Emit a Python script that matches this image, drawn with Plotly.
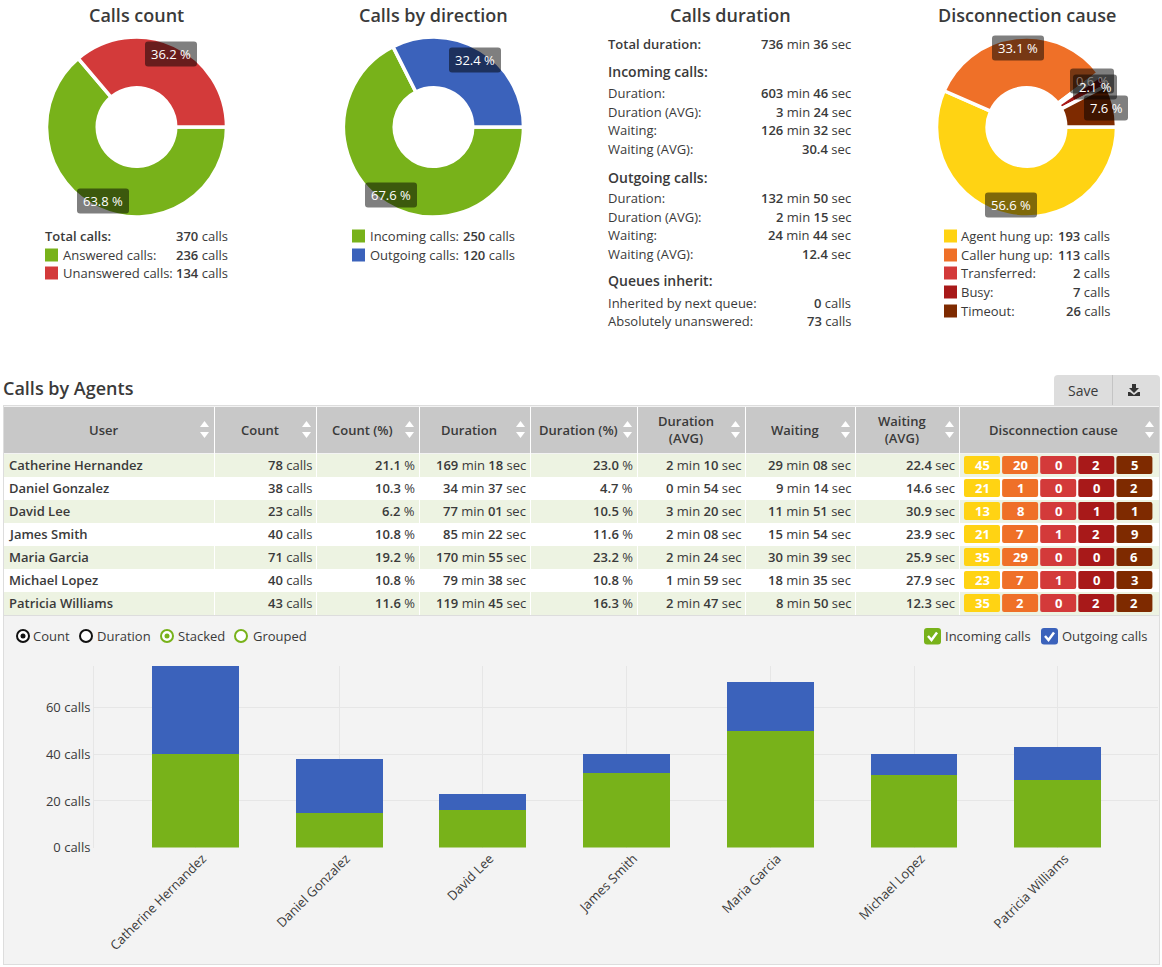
import plotly.graph_objects as go

W = 1162
H = 967
FONT = "Open Sans"
TEXT = "#3a3a3a"

GREEN = "#78b21a"
RED = "#d33a3a"
BLUE = "#3b62bb"
YELLOW = "#ffd313"
ORANGE = "#ef7028"
DARKRED = "#a81919"
BROWN = "#7e2a00"
CAUSE_COLORS = [YELLOW, ORANGE, RED, DARKRED, BROWN]

# pies
count_labels = ["Answered calls:", "Unanswered calls:"]
count_values = [236, 134]
direction_labels = ["Incoming calls:", "Outgoing calls:"]
direction_values = [250, 120]
cause_labels = ["Agent hung up:", "Caller hung up:", "Transferred:", "Busy:", "Timeout:"]
cause_values = [193, 113, 2, 7, 26]

# duration block
duration_rows = [
	("Total duration:", "736", " min ", "36", " sec", 44, "total"),
	("Incoming calls:", None, None, None, None, 72, "head"),
	("Duration:", "603", " min ", "46", " sec", 93, ""),
	("Duration (AVG):", "3", " min ", "24", " sec", 112, ""),
	("Waiting:", "126", " min ", "32", " sec", 130, ""),
	("Waiting (AVG):", "", "", "30.4", " sec", 149, ""),
	("Outgoing calls:", None, None, None, None, 177, "head"),
	("Duration:", "132", " min ", "50", " sec", 198, ""),
	("Duration (AVG):", "2", " min ", "15", " sec", 217, ""),
	("Waiting:", "24", " min ", "44", " sec", 235, ""),
	("Waiting (AVG):", "", "", "12.4", " sec", 254, ""),
	("Queues inherit:", None, None, None, None, 281, "head"),
	("Inherited by next queue:", "", "", "0", " calls", 303, ""),
	("Absolutely unanswered:", "", "", "73", " calls", 321, ""),
]

# table
headers = ["User", "Count", "Count (%)", "Duration", "Duration (%)", "Duration<br>(AVG)", "Waiting", "Waiting<br>(AVG)", "Disconnection cause"]
col_edges = [4, 214, 316, 419, 530, 637, 745, 855, 959, 1159]
agents = ["Catherine Hernandez", "Daniel Gonzalez", "David Lee", "James Smith", "Maria Garcia", "Michael Lopez", "Patricia Williams"]
counts = [78, 38, 23, 40, 71, 40, 43]
count_pct = ["21.1", "10.3", "6.2", "10.8", "19.2", "10.8", "11.6"]
durations = [("169", "18"), ("34", "37"), ("77", "01"), ("85", "22"), ("170", "55"), ("79", "38"), ("119", "45")]
duration_pct = ["23.0", "4.7", "10.5", "11.6", "23.2", "10.8", "16.3"]
duration_avg = [("2", "10"), ("0", "54"), ("3", "20"), ("2", "08"), ("2", "24"), ("1", "59"), ("2", "47")]
waiting = [("29", "08"), ("9", "14"), ("11", "51"), ("15", "54"), ("30", "39"), ("18", "35"), ("8", "50")]
waiting_avg = ["22.4", "14.6", "30.9", "23.9", "25.9", "27.9", "12.3"]
causes = [
	[45, 20, 0, 2, 5],
	[21, 1, 0, 0, 2],
	[13, 8, 0, 1, 1],
	[21, 7, 1, 2, 9],
	[35, 29, 0, 0, 6],
	[23, 7, 1, 0, 3],
	[35, 2, 0, 2, 2],
]

# bars
incoming = [40, 15, 16, 32, 50, 31, 29]
outgoing = [38, 23, 7, 8, 21, 9, 14]
y_ticks = [0, 20, 40, 60]
y_tick_labels = ["0 calls", "20 calls", "40 calls", "60 calls"]

shapes = []
annotations = []

def X(x):
	return x / W

def Y(y):
	return 1 - y / H

def bold(s):
	return '<span style="font-weight:600">' + s + '</span>'

def text(x, y, s, anchor="left", size=13, color=TEXT, weight=None):
	font = dict(family=FONT, size=size, color=color)
	if weight:
		font["weight"] = weight
	annotations.append(dict(x=X(x), y=Y(y), xref="paper", yref="paper", text=s, showarrow=False,
		xanchor=anchor, yanchor="middle", align="center", font=font, borderpad=0, borderwidth=0))

def rect(x0, y0, x1, y1, color, layer="below"):
	shapes.append(dict(type="rect", xref="paper", yref="paper", x0=X(x0), x1=X(x1), y0=Y(y0), y1=Y(y1),
		fillcolor=color, line_width=0, layer=layer))

def path(points, color, line=None, width=0, layer="above"):
	shapes.append(dict(type="path", xref="paper", yref="paper", path=points, fillcolor=color,
		line=dict(color=line or color, width=width), layer=layer))

def rounded(x0, y0, x1, y1, r, color, layer="above", top_only=False):
	rb = 0 if top_only else r
	p = (f"M {X(x0 + r)} {Y(y0)} L {X(x1 - r)} {Y(y0)} Q {X(x1)} {Y(y0)} {X(x1)} {Y(y0 + r)} "
		f"L {X(x1)} {Y(y1 - rb)} Q {X(x1)} {Y(y1)} {X(x1 - rb)} {Y(y1)} L {X(x0 + rb)} {Y(y1)} "
		f"Q {X(x0)} {Y(y1)} {X(x0)} {Y(y1 - rb)} L {X(x0)} {Y(y0 + r)} Q {X(x0)} {Y(y0)} {X(x0 + r)} {Y(y0)} Z")
	shapes.append(dict(type="path", xref="paper", yref="paper", path=p, fillcolor=color, line_width=0, layer=layer))

def circle(cx, cy, r, fill, line, width):
	shapes.append(dict(type="circle", xref="paper", yref="paper", x0=X(cx - r), x1=X(cx + r), y0=Y(cy - r), y1=Y(cy + r),
		fillcolor=fill, line=dict(color=line, width=width)))

def pie(values, colors, cx, cy=127, r=90):
	return go.Pie(values=values, marker=dict(colors=colors, line=dict(color="white", width=3.5)), hole=0.436, sort=False,
		direction="clockwise", rotation=90, textinfo="none", hoverinfo="none", showlegend=False,
		domain=dict(x=[X(cx - r), X(cx + r)], y=[Y(cy + r), Y(cy - r)]))

def pct_labels(values, places, dimmed=()):
	total = sum(values)
	for i, (v, (x, y)) in enumerate(zip(values, places)):
		pct = v / total * 100
		half = 26 if pct >= 10 else 22
		rounded(x - half, y - 12.5, x + half, y + 12.5, 3, "rgba(0,0,0,0.5)")
		text(x, y, f"{pct:.1f} %", "center", color="rgba(255,255,255,0.4)" if i in dimmed else "white")

def legend_row(x_swatch, x_text, x_right, y, label, value, color):
	rect(x_swatch, y - 6.5, x_swatch + 13, y + 6.5, color)
	text(x_text, y, label)
	text(x_right, y, bold(str(value)) + " calls", "right")

def min_sec(pair):
	return bold(pair[0]) + " min " + bold(pair[1]) + " sec"

# titles
for s, cx in [("Calls count", 136.5), ("Calls by direction", 433.5), ("Calls duration", 730), ("Disconnection cause", 1026.5)]:
	text(cx, 15, s, "center", size=18, weight=600)

# left pie
pct_labels(count_values, [(103, 201), (171, 54)])
text(45, 236, bold("Total calls:"))
text(228, 236, bold("370") + " calls", "right")
legend_row(45, 63, 228, 255, count_labels[0], count_values[0], GREEN)
legend_row(45, 63, 228, 273, count_labels[1], count_values[1], RED)

# direction pie
pct_labels(direction_values, [(391, 195), (475, 60)])
legend_row(352, 370, 515, 236, direction_labels[0], direction_values[0], GREEN)
legend_row(352, 370, 515, 255, direction_labels[1], direction_values[1], BLUE)

# cause pie
pct_labels(cause_values, [(1011, 205), (1018, 48), (1092, 81), (1095, 87), (1106, 108)], dimmed=[2])
for label, value, color, y in zip(cause_labels, cause_values, CAUSE_COLORS, [236, 255, 273, 292, 311]):
	legend_row(944, 961, 1110, y, label, value, color)

# duration block
for label, a, u1, b, u2, y, kind in duration_rows:
	if kind == "head":
		text(608.5, y, label, size=14, weight=600)
		continue
	text(608.5, y, bold(label) if kind == "total" else label)
	left = bold(a) + u1 if a else ""
	text(851, y, left + bold(b) + u2, "right")

# table + chart panel
text(3, 388, "Calls by Agents", size=18, weight=600)
rounded(1054, 375, 1160, 405, 4, "#dddddd", layer="below", top_only=True)
rect(1112, 375, 1113, 405, "#c4c4c4")
text(1083, 390, "Save", "center", size=14)
path(f"M {X(1132)} {Y(384)} L {X(1136)} {Y(384)} L {X(1136)} {Y(388)} L {X(1139)} {Y(388)} L {X(1134)} {Y(393)} L {X(1129)} {Y(388)} L {X(1132)} {Y(388)} Z", "#333333")
path(f"M {X(1128)} {Y(392)} L {X(1130)} {Y(392)} L {X(1134)} {Y(395)} L {X(1138)} {Y(392)} L {X(1140)} {Y(392)} L {X(1140)} {Y(396)} L {X(1128)} {Y(396)} Z", "#333333")

rect(3, 405, 1160, 965, "#dddddd")
rect(4, 406, 1159, 964, "#f3f3f3")
rect(4, 407, 1159, 453, "#c8c8c8")
row_top = 454
row_h = 23
for i in range(len(agents)):
	rect(4, row_top + i * row_h, 1159, row_top + (i + 1) * row_h, "#edf3e2" if i % 2 == 0 else "white")
rect(4, row_top + 7 * row_h, 1159, row_top + 7 * row_h + 1, "#dddddd")
for edge in col_edges[1:-1]:
	rect(edge, 407, edge + 1, row_top + 7 * row_h, "white")

for j, h in enumerate(headers):
	left = col_edges[j]
	right = col_edges[j + 1]
	cx = (left + right) / 2 - 5.5
	text(cx, 430, bold(h), "center")
	ax = right - 9.5
	path(f"M {X(ax - 4.5)} {Y(427)} L {X(ax + 4.5)} {Y(427)} L {X(ax)} {Y(421)} Z", "white")
	path(f"M {X(ax - 4.5)} {Y(432)} L {X(ax + 4.5)} {Y(432)} L {X(ax)} {Y(438)} Z", "white")

for i, name in enumerate(agents):
	y = row_top + i * row_h + row_h / 2 - 0.5
	text(9, y, bold(name))
	cells = [
		bold(str(counts[i])) + " calls",
		bold(count_pct[i]) + " %",
		min_sec(durations[i]),
		bold(duration_pct[i]) + " %",
		min_sec(duration_avg[i]),
		min_sec(waiting[i]),
		bold(waiting_avg[i]) + " sec",
	]
	for j, cell in enumerate(cells):
		text(col_edges[j + 2] - 4, y, cell, "right")
	for k, value in enumerate(causes[i]):
		x0 = 964 + k * 38.1
		rounded(x0, y - 9, x0 + 36, y + 9, 2, CAUSE_COLORS[k])
		text(x0 + 18, y, "<b>" + str(value) + "</b>", "center", color="white")

# controls above the chart
circle(23, 636, 6, "white", "#111111", 2)
circle(23, 636, 2.5, "#111111", "#111111", 0)
text(33, 636, "Count")
circle(86, 636, 6, "white", "#111111", 2)
text(97, 636, "Duration")
circle(167, 636, 6, "white", GREEN, 2)
circle(167, 636, 2.5, GREEN, GREEN, 0)
text(178, 636, "Stacked")
circle(241, 636, 6, "white", GREEN, 2)
text(253, 636, "Grouped")
for x0, color, label in [(924, GREEN, "Incoming calls"), (1041, BLUE, "Outgoing calls")]:
	rounded(x0, 628, x0 + 17, 644.5, 3, color)
	shapes.append(dict(type="path", xref="paper", yref="paper",
		path=f"M {X(x0 + 4)} {Y(636)} L {X(x0 + 7.5)} {Y(640)} L {X(x0 + 13)} {Y(632.5)}",
		line=dict(color="white", width=2.5)))
	text(x0 + 21, 636, label)

# bar chart, axes placed so categories sit under the table layout
plot_left = 94
plot_right = 1158
plot_top = 666
plot_bottom = 847.5
first_center = 195.5
spacing = 143.7
x_range = [(plot_left - first_center) / spacing, (plot_right - first_center) / spacing]

fig = go.Figure()
fig.add_trace(pie(count_values, [GREEN, RED], 136.5))
fig.add_trace(pie(direction_values, [GREEN, BLUE], 433.5))
fig.add_trace(pie(cause_values, CAUSE_COLORS, 1026.5))
fig.add_trace(go.Bar(x=agents, y=incoming, name="Incoming calls", marker_color=GREEN, marker_line_width=0, width=0.605))
fig.add_trace(go.Bar(x=agents, y=outgoing, name="Outgoing calls", marker_color=BLUE, marker_line_width=0, width=0.605))

fig.update_layout(
	width=W, height=H, margin=dict(l=0, r=0, t=0, b=0), barmode="stack", showlegend=False,
	paper_bgcolor="white", plot_bgcolor="rgba(0,0,0,0)", font=dict(family=FONT, size=13, color=TEXT),
	shapes=shapes, annotations=annotations,
	xaxis=dict(domain=[X(plot_left), X(plot_right)], range=x_range, type="category", categoryorder="array", categoryarray=agents,
		tickangle=-45, ticklabelshift=7, gridcolor="#e6e6e6", showgrid=True, zeroline=False, ticks="", automargin=False),
	yaxis=dict(domain=[Y(plot_bottom), Y(plot_top)], range=[0, 78], tickvals=y_ticks, ticktext=y_tick_labels, gridcolor="#e6e6e6",
		showline=True, linecolor="#e6e6e6", zeroline=False, ticks="", automargin=False),
)

fig.write_html("out.html", config=dict(displayModeBar=False),
	post_script="document.body.style.margin='0';document.body.style.overflow='hidden';")
